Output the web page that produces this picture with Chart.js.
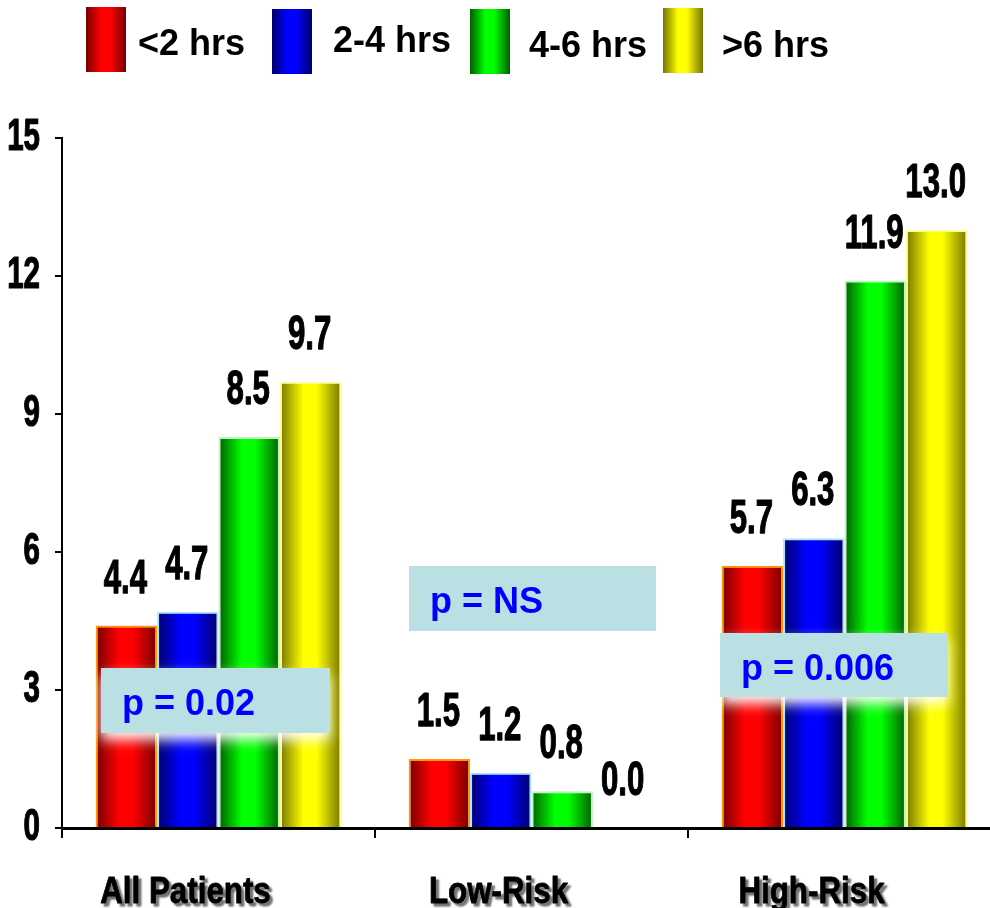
<!DOCTYPE html>
<html>
<head>
<meta charset="utf-8">
<script src="https://cdn.jsdelivr.net/npm/chart.js@4.4.1/dist/chart.umd.min.js"></script>
<style>
  html, body { margin: 0; padding: 0; overflow: hidden; background: #fff; }
  #wrap { position: absolute; left: 0; top: 0; width: 1010px; height: 908px; }
</style>
</head>
<body>
<div id="wrap"><canvas id="c" width="1010" height="908"></canvas></div>
<script>
// Event rate (%) by time to treatment, per patient group
const categories = ['All Patients', 'Low-Risk', 'High-Risk'];
const seriesNames = ['<2 hrs', '2-4 hrs', '4-6 hrs', '>6 hrs'];
const under2h = [4.4, 1.5, 5.7];
const from2to4h = [4.7, 1.2, 6.3];
const from4to6h = [8.5, 0.8, 11.9];
const over6h = [9.7, 0.0, 13.0];
const yTicks = [0, 3, 6, 9, 12, 15];
const pValues = ['p = 0.02', 'p = NS', 'p = 0.006'];

// cylinder-style shading for each series: dark edges, bright centre
const shades = [
  { dark: '#760000', mid: '#ff0000', edge: '#ff9900' },
  { dark: '#00006a', mid: '#0000ff', edge: '#a8e6ff' },
  { dark: '#005e00', mid: '#00ff00', edge: '#bff5bf' },
  { dark: '#767600', mid: '#ffff00', edge: '#ffff99' }
];

const FONT = '"Liberation Sans", Arial, Helvetica, sans-serif';

function cylinder(ctx, x0, x1, s) {
  const g = ctx.createLinearGradient(x0, 0, x1, 0);
  g.addColorStop(0, s.dark);
  g.addColorStop(0.38, s.mid);
  g.addColorStop(0.6, s.mid);
  g.addColorStop(1, s.dark);
  return g;
}

// draw text squeezed horizontally / stretched vertically (narrow bold face)
function stretchText(ctx, text, x, y, size, sx, sy, align, weight) {
  ctx.save();
  ctx.translate(x, y);
  ctx.scale(sx, sy);
  ctx.font = 'bold ' + size + 'px ' + FONT;
  ctx.textAlign = align || 'center';
  ctx.textBaseline = 'alphabetic';
  ctx.fillText(text, 0, 0);
  if (weight) {
    ctx.lineWidth = weight;
    ctx.lineJoin = 'round';
    ctx.strokeStyle = ctx.fillStyle;
    ctx.strokeText(text, 0, 0);
  }
  ctx.restore();
}

const seriesValues = [under2h, from2to4h, from4to6h, over6h];

const datasets = seriesValues.map((vals, i) => ({
  label: seriesNames[i],
  data: vals,
  backgroundColor: () => shades[i].mid,
  borderColor: shades[i].edge,
  borderWidth: 2,
  categoryPercentage: 0.785,
  barPercentage: 1.0
}));

const shadingPlugin = {
  id: 'shading',
  beforeDatasetsDraw(chart) {
    const ctx = chart.ctx;
    chart.data.datasets.forEach((ds, i) => {
      chart.getDatasetMeta(i).data.forEach(bar => {
        const { x, width } = bar.getProps(['x', 'width'], true);
        bar.options.backgroundColor = cylinder(ctx, x - width / 2, x + width / 2, shades[i]);
      });
    });
  }
};

const annotationPlugin = {
  id: 'annotations',
  afterDatasetsDraw(chart) {
    const ctx = chart.ctx;
    // p-value boxes
    const boxes = [
      { x: 101, y: 668, w: 229, h: 65 },
      { x: 409, y: 566, w: 247, h: 65 },
      { x: 720, y: 633, w: 228, h: 64 }
    ];
    boxes.forEach((b, i) => {
      ctx.save();
      ctx.shadowColor = 'rgba(255,255,255,0.95)';
      ctx.shadowBlur = 12;
      ctx.shadowOffsetY = 7;
      ctx.fillStyle = '#bae0e3';
      ctx.fillRect(b.x, b.y, b.w, b.h);
      ctx.restore();
      ctx.save();
      ctx.fillStyle = '#0000ff';
      ctx.font = 'bold 36px ' + FONT;
      ctx.textAlign = 'left';
      ctx.textBaseline = 'alphabetic';
      ctx.fillText(pValues[i], b.x + 21, b.y + 47);
      ctx.restore();
    });

    // value labels above bars
    ctx.save();
    ctx.fillStyle = '#000';
    chart.data.datasets.forEach((ds, i) => {
      chart.getDatasetMeta(i).data.forEach((bar, j) => {
        const { x, y } = bar.getProps(['x', 'y'], true);
        stretchText(ctx, ds.data[j].toFixed(1), x - 1, y - 33, 38, 0.82, 1.25, 'center', 1);
      });
    });
    ctx.restore();
  },
  afterDraw(chart) {
    const ctx = chart.ctx;
    const ys = chart.scales.y;
    const xs = chart.scales.x;
    ctx.save();
    ctx.fillStyle = '#000';
    // y tick labels
    yTicks.forEach(v => {
      const py = ys.getPixelForValue(v);
      stretchText(ctx, String(v), 40, py + 12, 36, 0.82, 1.22, 'right', 1);
    });
    // category labels with drop shadow
    categories.forEach((c, i) => {
      const px = xs.getPixelForValue(i);
      ctx.save();
      ctx.shadowColor = 'rgba(0,0,0,0.55)';
      ctx.shadowOffsetX = 3;
      ctx.shadowOffsetY = 3;
      ctx.shadowBlur = 2;
      stretchText(ctx, c, px - 33, 903, 36, 0.87, 1.02, 'center', 0.8);
      ctx.restore();
    });
    // legend
    const legendPos = [
      { bx: 86, by: 7, tx: 138, ty: 55 },
      { bx: 272, by: 9, tx: 333, ty: 52 },
      { bx: 470, by: 9, tx: 529, ty: 57 },
      { bx: 663, by: 8, tx: 722, ty: 57 }
    ];
    chart.data.datasets.forEach((ds, i) => {
      const p = legendPos[i];
      ctx.fillStyle = cylinder(ctx, p.bx, p.bx + 40, shades[i]);
      ctx.fillRect(p.bx, p.by, 40, 65);
      ctx.fillStyle = '#000';
      ctx.font = 'bold 36px ' + FONT;
      ctx.textAlign = 'left';
      ctx.textBaseline = 'alphabetic';
      ctx.fillText(ds.label, p.tx, p.ty);
    });
    ctx.restore();
  }
};

new Chart(document.getElementById('c'), {
  type: 'bar',
  data: { labels: categories, datasets },
  options: {
    responsive: false,
    animation: false,
    events: [],
    layout: { padding: { top: 138, right: 9, bottom: 0, left: 0 } },
    plugins: { legend: { display: false }, tooltip: { enabled: false } },
    scales: {
      x: {
        type: 'category',
        grid: {
          display: true, drawOnChartArea: false, drawTicks: true,
          tickLength: 10, color: '#000', lineWidth: 2, offset: true
        },
        border: { display: true, color: '#000', width: 3 },
        ticks: { display: false },
        afterFit(scale) { scale.height = 80; }
      },
      y: {
        min: 0, max: 15,
        ticks: { display: false, stepSize: 3 },
        grid: {
          display: true, drawOnChartArea: false, drawTicks: true,
          tickLength: 7, color: '#000', lineWidth: 2
        },
        border: { display: true, color: '#000', width: 2 },
        afterFit(scale) { scale.width = 62; }
      }
    }
  },
  plugins: [shadingPlugin, annotationPlugin]
});
</script>
</body>
</html>
